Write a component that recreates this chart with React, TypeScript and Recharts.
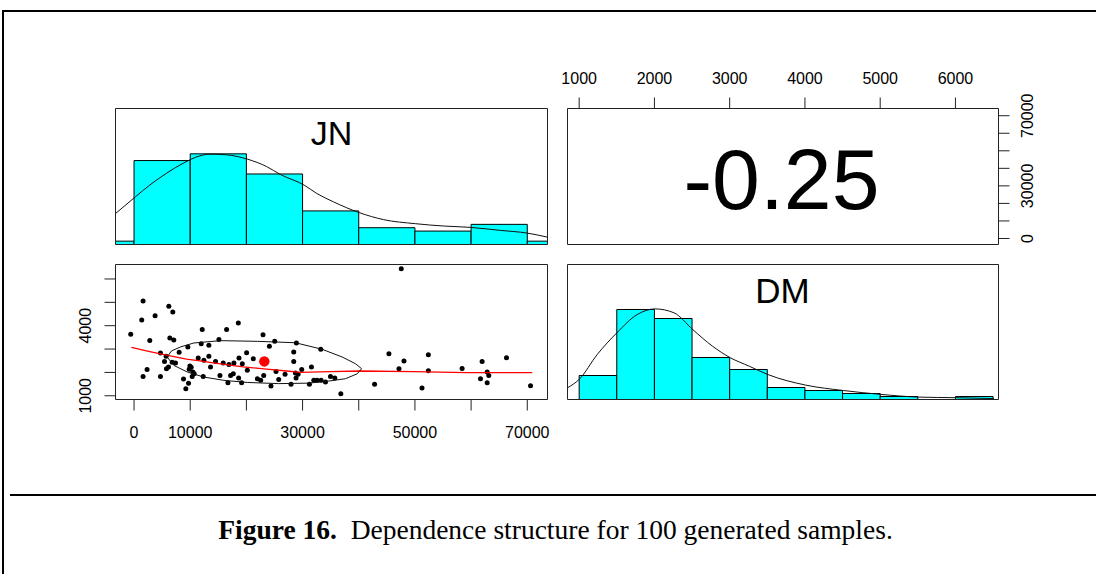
import React from 'react'
import { ComposedChart, XAxis, YAxis, Scatter, ReferenceArea } from 'recharts'

const W = 1096
const H = 574
const AX = 20
const FONT = '"Liberation Sans", Arial, sans-serif'
const SERIF = '"Liberation Serif", "Times New Roman", serif'

// histogram of JN (counts per 10000 bin)
const jnEdges = [-10000, 0, 10000, 20000, 30000, 40000, 50000, 60000, 70000, 80000]
const jnCounts = [1, 25, 27, 21, 10, 5, 4, 6, 1]
// density curve, in count units
const jnDensX = [-3300, 240, 2800, 5770, 8750, 11720, 13500, 16480, 20220, 23610, 25990, 30270, 32530, 35500, 40080, 44420, 50070, 55130, 59880, 65230, 69990, 73560]
const jnDensY = [9.2, 14.2, 17.7, 21.2, 24.2, 26.4, 26.9, 26.7, 25.4, 23.2, 20.9, 17.7, 15.2, 12.7, 9.5, 7.4, 6.2, 5.5, 5.1, 4.2, 3.4, 2.2]

// histogram of DM (counts per 500 bin)
const dmEdges = [1000, 1500, 2000, 2500, 3000, 3500, 4000, 4500, 5000, 5500, 6000, 6500]
const dmCounts = [8, 30, 27, 14, 10, 4, 3, 2, 1, 0, 1]
const dmDensX = [845, 1000, 1240, 1500, 1770, 2010, 2260, 2510, 2770, 3010, 3260, 3510, 4010, 4510, 5010, 5510, 6010, 6510]
const dmDensY = [3.9, 6.7, 15.0, 22.2, 28.3, 30.2, 28.9, 23.3, 17.8, 13.9, 11.1, 8.3, 4.8, 3.0, 1.7, 0.8, 0.6, 0.3]

// the 100 samples
const jnSample = [
  -590, 1610, 1370, 3750, 2800, 6190, 6900, 6370, 7080, 4700,
  5420, 5710, 2320, 1610, 4700, 5770, 6130, 6780, 7380, 8030,
  9580, 9940, 10170, 9820, 10470, 10350, 8810, 9700, 9220, 12140,
  11960, 13320, 11420, 12430, 13320, 13620, 12310, 14510, 15110, 16480,
  15880, 16890, 15290, 17190, 16710, 17780, 18680, 18560, 20040, 19270,
  20160, 18620, 19150, 21230, 21950, 22960, 22540, 23080, 24090, 24380,
  25040, 25280, 25750, 27950, 28430, 28430, 28900, 28730, 29200, 28840,
  29850, 31580, 31220, 32000, 32590, 33300, 34080, 33240, 34970, 35740,
  36810, 42820, 45370, 47160, 47570, 48050, 51260, 52390, 52390, 58400,
  61960, 61670, 62860, 63150, 62860, 66300, 70580, 10710, 17670, 26880,
]
const dmSample = [
  3630, 5060, 4240, 4430, 3370, 4830, 4590, 3470, 3390, 2830,
  2470, 2690, 2120, 1830, 1830, 2160, 2230, 2440, 2400, 2860,
  3090, 2270, 2220, 2130, 2020, 1830, 1720, 1540, 1300, 3840,
  3230, 3160, 2620, 2520, 2690, 2230, 1830, 2470, 3410, 3840,
  2400, 2340, 1870, 1870, 1560, 2400, 2620, 4120, 2840, 2370,
  2090, 1760, 1560, 2590, 1730, 3610, 1660, 1870, 3120, 1420,
  3330, 2040, 1700, 1490, 2870, 2470, 3260, 1970, 1920, 1760,
  2120, 2230, 1490, 1660, 1660, 1660, 1590, 2990, 1830, 1760,
  1090, 1490, 2800, 2160, 6440, 2490, 1330, 2760, 2070, 2170,
  2470, 1730, 2020, 1870, 1560, 2630, 1430, 1940, 1940, 1920,
]
const meanJN = 23190
const meanDM = 2470

// correlation ellipse and loess smooth
const ellJN = [5890, 6670, 8270, 10650, 15410, 21950, 28730, 33480, 37050, 39430, 40500, 39730, 37640, 34670, 31100, 25750, 20160, 16000, 12430, 9460, 7080, 5890]
const ellDM = [2660, 2920, 3090, 3260, 3360, 3330, 3270, 2990, 2660, 2370, 2160, 1940, 1730, 1630, 1540, 1520, 1570, 1660, 1800, 2020, 2300, 2660]
const loessJN = [-470, 2800, 5770, 9340, 11720, 14690, 19450, 23610, 27180, 29560, 34910, 40260, 49770, 59290, 70880]
const loessDM = [3070, 2890, 2740, 2570, 2490, 2390, 2240, 2140, 2060, 2000, 2030, 2060, 2030, 1990, 1990]

const correlation = '-0.25'

const jnTicks = [0, 10000, 20000, 30000, 40000, 50000, 60000, 70000]
const jnBottomShown = [0, 10000, 30000, 50000, 70000]
const jnRightShown = [0, 30000, 70000]
const dmTicks = [1000, 2000, 3000, 4000, 5000, 6000]
const dmLeftShown = [1000, 4000]

const zip = (xs: number[], ys: number[]) => xs.map((x, i) => ({ x, y: ys[i] }))

const margins = (l: number, r: number, t: number, b: number) => ({
  left: l - AX,
  right: W - r - AX,
  top: t - AX,
  bottom: H - b - AX,
})

const boxColor = '#222'
const tickStyle = { fontSize: 16, fill: '#000', fontFamily: FONT }

const RotTick = ({ x, y, payload, shown, right }: any) => {
  if (!shown.includes(payload.value)) return <g />
  const bx = right ? x + 11.5 : x
  return (
    <text x={bx} y={y} transform={`rotate(-90 ${bx} ${y})`} textAnchor="middle" fontSize={16} fontFamily={FONT} fill="#000">
      {payload.value}
    </text>
  )
}

const Dot = (p: any) => <circle cx={p.cx} cy={p.cy} r={2.5} fill="#000" />
const BigDot = (p: any) => <circle cx={p.cx} cy={p.cy} r={5.2} fill="#ff0000" />
const NoDot = () => <g />

// hidden-side axes that only draw the panel box
const boxAxes = (xDom: number[], yDom: number[]) => [
  <XAxis key="bx" xAxisId="b" orientation="bottom" type="number" dataKey="x" domain={xDom} allowDataOverflow height={AX} tick={false} tickLine={false} axisLine={{ stroke: boxColor }} />,
  <XAxis key="tx" xAxisId="t" orientation="top" type="number" domain={xDom} allowDataOverflow height={AX} tick={false} tickLine={false} axisLine={{ stroke: boxColor }} />,
  <YAxis key="ly" yAxisId="l" orientation="left" type="number" dataKey="y" domain={yDom} allowDataOverflow width={AX} tick={false} tickLine={false} axisLine={{ stroke: boxColor }} />,
  <YAxis key="ry" yAxisId="r" orientation="right" type="number" domain={yDom} allowDataOverflow width={AX} tick={false} tickLine={false} axisLine={{ stroke: boxColor }} />,
]

const layer: React.CSSProperties = { position: 'absolute', left: 0, top: 0 }

function JNHist() {
  return (
    <ComposedChart width={W} height={H} margin={margins(115.5, 547.5, 108.5, 244.5)}>
      {boxAxes([-3300, 73600], [0, 40.5])}
      {jnCounts.map((c, i) => (
        <ReferenceArea key={i} xAxisId="b" yAxisId="l" x1={jnEdges[i]} x2={jnEdges[i + 1]} y1={0} y2={c}
          fill="#00ffff" fillOpacity={1} stroke="#000" strokeWidth={1} ifOverflow="hidden" />
      ))}
      <Scatter xAxisId="b" yAxisId="l" data={zip(jnDensX, jnDensY)} shape={NoDot} line={{ stroke: '#111', strokeWidth: 1 }}
        lineJointType="monotoneX" isAnimationActive={false} />
    </ComposedChart>
  )
}

function DMHist() {
  return (
    <ComposedChart width={W} height={H} margin={margins(567.5, 998.5, 264.5, 399.5)}>
      {boxAxes([845, 6572], [0, 45])}
      {dmCounts.map((c, i) => (
        <ReferenceArea key={i} xAxisId="b" yAxisId="l" x1={dmEdges[i]} x2={dmEdges[i + 1]} y1={0} y2={c}
          fill="#00ffff" fillOpacity={1} stroke="#000" strokeWidth={1} ifOverflow="hidden" />
      ))}
      <Scatter xAxisId="b" yAxisId="l" data={zip(dmDensX, dmDensY)} shape={NoDot} line={{ stroke: '#111', strokeWidth: 1 }}
        lineJointType="monotoneX" isAnimationActive={false} />
    </ComposedChart>
  )
}

function ScatterPanel() {
  const xDom = [-3300, 73600]
  const yDom = [840, 6620]
  return (
    <ComposedChart width={W} height={H} margin={margins(115.5, 547.5, 264.5, 399.5)}>
      <XAxis xAxisId="b" orientation="bottom" type="number" dataKey="x" domain={xDom} allowDataOverflow height={AX}
        ticks={jnTicks} interval={0} tickSize={11} tickMargin={16.4} tick={tickStyle}
        tickFormatter={(v: number) => (jnBottomShown.includes(v) ? String(v) : '')}
        tickLine={{ stroke: boxColor }} axisLine={{ stroke: boxColor }} />
      <XAxis xAxisId="t" orientation="top" type="number" domain={xDom} allowDataOverflow height={AX} tick={false} tickLine={false} axisLine={{ stroke: boxColor }} />
      <YAxis yAxisId="l" orientation="left" type="number" dataKey="y" domain={yDom} allowDataOverflow width={AX}
        ticks={dmTicks} interval={0} tickSize={11} tickMargin={13.8}
        tick={(p: any) => <RotTick {...p} shown={dmLeftShown} />}
        tickLine={{ stroke: boxColor }} axisLine={{ stroke: boxColor }} />
      <YAxis yAxisId="r" orientation="right" type="number" domain={yDom} allowDataOverflow width={AX} tick={false} tickLine={false} axisLine={{ stroke: boxColor }} />
      <Scatter xAxisId="b" yAxisId="l" data={zip(jnSample, dmSample)} shape={Dot} isAnimationActive={false} />
      <Scatter xAxisId="b" yAxisId="l" data={zip(loessJN, loessDM)} shape={NoDot} line={{ stroke: '#ff0000', strokeWidth: 1.3 }} isAnimationActive={false} />
      <Scatter xAxisId="b" yAxisId="l" data={zip(ellJN, ellDM)} shape={NoDot} line={{ stroke: '#111', strokeWidth: 1 }} isAnimationActive={false} />
      <Scatter xAxisId="b" yAxisId="l" data={[{ x: meanJN, y: meanDM }]} shape={BigDot} isAnimationActive={false} />
    </ComposedChart>
  )
}

function CorrPanel() {
  const xDom = [845, 6572]
  const yDom = [-3430, 74120]
  return (
    <ComposedChart width={W} height={H} margin={margins(567.5, 998.5, 108.5, 244.5)}>
      <XAxis xAxisId="b" orientation="bottom" type="number" dataKey="x" domain={xDom} allowDataOverflow height={AX} tick={false} tickLine={false} axisLine={{ stroke: boxColor }} />
      <XAxis xAxisId="t" orientation="top" type="number" dataKey="x" domain={xDom} allowDataOverflow height={AX}
        ticks={dmTicks} interval={0} tickSize={11} tickMargin={14} tick={tickStyle}
        tickLine={{ stroke: boxColor }} axisLine={{ stroke: boxColor }} />
      <YAxis yAxisId="l" orientation="left" type="number" dataKey="y" domain={yDom} allowDataOverflow width={AX} tick={false} tickLine={false} axisLine={{ stroke: boxColor }} />
      <YAxis yAxisId="r" orientation="right" type="number" dataKey="y" domain={yDom} allowDataOverflow width={AX}
        ticks={jnTicks} interval={0} tickSize={11} tickMargin={12.2}
        tick={(p: any) => <RotTick {...p} shown={jnRightShown} right />}
        tickLine={{ stroke: boxColor }} axisLine={{ stroke: boxColor }} />
      {/* the panel's variables (DM across, JN up); nothing is drawn for them */}
      <Scatter xAxisId="t" yAxisId="r" data={zip(dmSample, jnSample)} shape={NoDot} isAnimationActive={false} />
    </ComposedChart>
  )
}

export default function App() {
  return (
    <div style={{ position: 'relative', width: W, height: H, background: '#fff', overflow: 'hidden' }}>
      <style>{'body{margin:0}'}</style>
      <div style={layer}><JNHist /></div>
      <div style={layer}><CorrPanel /></div>
      <div style={layer}><ScatterPanel /></div>
      <div style={layer}><DMHist /></div>
      <svg width={W} height={H} style={layer}>
        <line x1={3} y1={11} x2={W} y2={11} stroke="#000" strokeWidth={2} />
        <line x1={3} y1={10} x2={3} y2={H} stroke="#000" strokeWidth={2} />
        <line x1={10} y1={495} x2={W} y2={495} stroke="#000" strokeWidth={2} />
        <text x={331.5} y={145} textAnchor="middle" fontSize={34} fontFamily={FONT} fill="#000">JN</text>
        <text x={782.5} y={303} textAnchor="middle" fontSize={35} fontFamily={FONT} fill="#000">DM</text>
        <text x={781.5} y={209} textAnchor="middle" fontSize={86} fontFamily={FONT} fill="#000">{correlation}</text>
        <text x={555.5} y={539} textAnchor="middle" fontSize={27.5} fontFamily={SERIF} fill="#000">
          <tspan fontWeight="bold">Figure 16.</tspan>
          <tspan>{'\u00a0\u00a0Dependence structure for 100 generated samples.'}</tspan>
        </text>
      </svg>
    </div>
  )
}
